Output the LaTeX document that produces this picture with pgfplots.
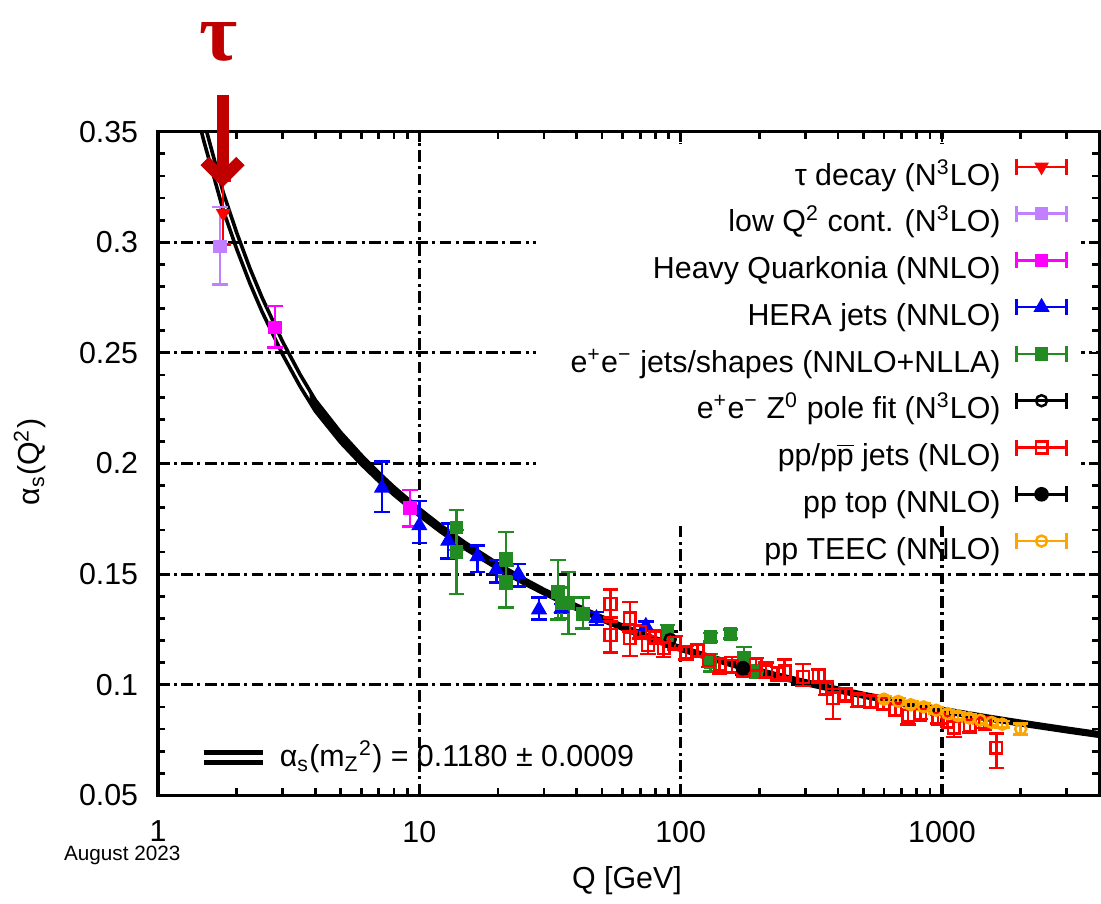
\documentclass[border=0pt]{standalone}
\usepackage{fontspec}
\setmainfont{Liberation Sans}
\newfontfamily\taufont{Liberation Serif}
\usepackage{pgfplots}
\usepackage{pgfplotstable}
\usepgfplotslibrary{fillbetween}
\pgfplotsset{compat=1.18}

\definecolor{taured}{RGB}{192,0,0}
\definecolor{lowq}{RGB}{192,128,255}
\definecolor{hq}{RGB}{255,0,255}
\definecolor{eegreen}{RGB}{34,139,34}
\definecolor{teec}{RGB}{255,165,0}

\pgfplotsset{
  ebleg/.style={legend image code/.code={%
    \draw[##1,mark=none,line width=0.9pt] (0pt,3.8pt) -- (18pt,3.8pt) (0pt,0.9pt) -- (0pt,6.7pt) (18pt,0.9pt) -- (18pt,6.7pt);
    \draw[##1] plot coordinates {(9pt,3.8pt)};
  }},
  pts/.style={only marks, line width=0.9pt, ebleg,
    error bars/y dir=both, error bars/y explicit,
    error bars/error bar style={line width=0.9pt},
    error bars/error mark options={rotate=90, mark size=2.8pt, line width=0.9pt}},
}

% world average band, lower and upper edge
\pgfplotstableread{
Q lo hi
1.35 0.3672 0.3768
1.40 0.3593 0.3687
1.50 0.3455 0.3545
1.60 0.3337 0.3423
1.777 0.3145 0.3225
2.00 0.2970 0.3044
2.25 0.2813 0.2881
2.50 0.2687 0.2751
3.00 0.2492 0.2550
3.50 0.2348 0.2402
4.00 0.2237 0.2287
5.00 0.2095 0.2141
6.00 0.1996 0.2038
7.00 0.1920 0.1958
8.00 0.1858 0.1894
10.0 0.1764 0.1796
12.0 0.1693 0.1723
15.0 0.1614 0.1642
20.0 0.1523 0.1547
25.0 0.1459 0.1481
30.0 0.1411 0.1431
40.0 0.1340 0.1360
50.0 0.1290 0.1308
60.0 0.1251 0.1269
70.0 0.1220 0.1238
91.19 0.1172 0.1188
100 0.1156 0.1172
125 0.1121 0.1137
150 0.1093 0.1109
173 0.1072 0.1088
200 0.1053 0.1069
250 0.1024 0.1040
300 0.1002 0.1018
400 0.0969 0.0985
500 0.0945 0.0961
700 0.0911 0.0927
1000 0.0877 0.0893
1500 0.0842 0.0858
2000 0.0819 0.0835
3000 0.0788 0.0804
4000 0.0767 0.0783
}\curve

\begin{document}
\begin{tikzpicture}
\begin{scope}[x=0.36pt,y=-0.36pt,shift={(-57.24pt,288.18pt)}]
\useasboundingbox (0,0) rectangle (1101,909);
\end{scope}

\begin{axis}[
    scale only axis,
    width=341.06pt, height=240.48pt,
    xmode=log, xmin=1, xmax=4000,
    ymin=0.05, ymax=0.35,
    xtick={1,10,100,1000}, xticklabels={1,10,100,1000},
    minor xtick={2,3,4,5,6,7,8,9,20,30,40,50,60,70,80,90,200,300,400,500,600,700,800,900,2000,3000},
    ytick={0.05,0.1,0.15,0.2,0.25,0.3,0.35},
    yticklabels={0.05,0.1,0.15,0.2,0.25,0.3,0.35},
    minor y tick num=4,
    grid=major,
    major grid style={black, line width=1.1pt, dash pattern=on 4.2pt off 1.6pt on 1.1pt off 1.6pt},
    axis line style={line width=1.2pt},
    tick align=inside,
    major tick length=3.6pt, minor tick length=2.6pt,
    every tick/.style={black, line width=1pt},
    /pgf/number format/assume math mode=true,
    ticklabel style={font=\fontsize{11}{13}\selectfont},
    xticklabel style={inner sep=0pt, yshift=-9pt},
    yticklabel style={inner sep=0pt, xshift=-7pt},
    legend cell align=right,
    legend plot pos=right,
    legend style={at={(0.9669,0.9618)}, anchor=north east, draw=none, fill=none,
      inner sep=0pt, row sep=4.4pt, column sep=5.4pt,
      font=\fontsize{11}{13}\selectfont,
      nodes={inner sep=0pt, text height=8.2pt, text depth=2.6pt}},
]
% blank key area over the grid
\fill[white] (rel axis cs:0.402,0.4124) rectangle (rel axis cs:0.9806,0.982);

\addplot[name path=lo, black, line width=1.3pt, forget plot] table[x=Q, y=lo] {\curve};
\addplot[name path=hi, black, line width=1.3pt, forget plot] table[x=Q, y=hi] {\curve};
\addplot[black, forget plot] fill between[of=lo and hi, soft clip={domain=3.8:4000}];

\addplot[pts, red, mark=triangle*, mark size=2.2pt, mark options={rotate=180}]
  table[x=Q, y=a, y error plus=ep, y error minus=em] {
Q a ep em
1.777 0.313 0.015 0.014
};
\addlegendentry{τ decay (N\textsuperscript{3}LO)}

\addplot[pts, lowq, mark=square*, mark size=2pt]
  table[x=Q, y=a, y error plus=ep, y error minus=em] {
Q a ep em
1.73 0.298 0.018 0.017
};
\addlegendentry{low Q\textsuperscript{2} cont. (N\textsuperscript{3}LO)}

\addplot[pts, hq, mark=square*, mark size=2pt]
  table[x=Q, y=a, y error plus=ep, y error minus=em] {
Q a ep em
2.8 0.2615 0.0098 0.0090
9.2 0.180 0.008 0.0085
};
\addlegendentry{Heavy Quarkonia (NNLO)}

\addplot[pts, blue, mark=triangle*, mark size=2.5pt]
  table[x=Q, y=a, y error plus=ep, y error minus=em] {
Q a ep em
7.2 0.189 0.012 0.011
10.0 0.172 0.011 0.008
12.9 0.165 0.008 0.008
16.7 0.158 0.005 0.007
19.7 0.152 0.0045 0.0058
23.9 0.150 0.0045 0.0055
28.7 0.134 0.0055 0.0045
35.0 0.1345 0.002 0.002
47.6 0.130 0.003 0.003
73.6 0.1265 0.002 0.002
};
\addlegendentry{HERA jets (NNLO)}

\addplot[pts, eegreen, mark=square*, mark size=2pt]
  table[x=Q, y=a, y error plus=ep, y error minus=em] {
Q a ep em
13.9 0.171 0.008 0.010
13.9 0.160 0.010 0.019
21.5 0.157 0.012 0.008
21.5 0.146 0.008 0.011
33.9 0.142 0.0145 0.0125
35.0 0.137 0.007 0.007
37.3 0.137 0.014 0.014
42.2 0.132 0.0075 0.0065
89.0 0.1235 0.0035 0.0035
130 0.1215 0.002 0.002
130 0.110 0.004 0.004
155 0.123 0.002 0.002
175 0.112 0.005 0.005
195 0.106 0.003 0.003
};
\addlegendentry{e\textsuperscript{+}e\textsuperscript{−} jets/shapes (NNLO+NLLA)}

\addplot[pts, black, mark=o, mark size=2pt]
  table[x=Q, y=a, y error plus=ep, y error minus=em] {
Q a ep em
91.19 0.1205 0.0035 0.0035
};
\addlegendentry{e\textsuperscript{+}e\textsuperscript{−} Z\textsuperscript{0} pole fit (N\textsuperscript{3}LO)}

\addplot[pts, red, mark=square, mark size=2.1pt]
  table[x=Q, y=a, y error plus=ep, y error minus=em] {
Q a ep em
53.9 0.1365 0.0065 0.0060
53.9 0.1225 0.0060 0.0080
63.9 0.1300 0.0075 0.0060
63.9 0.1210 0.0060 0.0080
70 0.1240 0.0030 0.0030
75 0.1180 0.0040 0.0040
80 0.1215 0.0030 0.0030
86 0.1165 0.0040 0.0040
95 0.1190 0.0030 0.0030
105 0.1145 0.0030 0.0030
116 0.1155 0.0030 0.0030
128 0.1110 0.0030 0.0030
141 0.1090 0.0030 0.0040
157 0.1085 0.0040 0.0030
174 0.1065 0.0030 0.0030
194 0.1090 0.0030 0.0030
212 0.1060 0.0040 0.0030
235 0.1050 0.0030 0.0030
250 0.1060 0.0055 0.0040
294 0.1035 0.0060 0.0040
337 0.1040 0.0030 0.0030
360 0.0985 0.0030 0.0030
382 0.0940 0.0040 0.0095
428 0.0955 0.0030 0.0030
478 0.0930 0.0030 0.0030
532 0.0925 0.0030 0.0030
596 0.0915 0.0030 0.0030
663 0.0890 0.0030 0.0030
742 0.0860 0.0030 0.0040
826 0.0865 0.0020 0.0020
966 0.0845 0.0020 0.0020
1050 0.0830 0.0020 0.0020
1110 0.0805 0.0030 0.0040
1277 0.0815 0.0030 0.0030
1455 0.0825 0.0020 0.0020
1615 0.0715 0.0065 0.0090
};
\addlegendentry{pp/p$\overline{\mbox{p}}$ jets (NLO)}

\addplot[pts, black, mark=*, mark size=2.2pt]
  table[x=Q, y=a, y error plus=ep, y error minus=em] {
Q a ep em
173 0.1075 0.003 0.003
};
\addlegendentry{pp top (NNLO)}

\addplot[pts, teec, mark=o, mark size=2pt]
  table[x=Q, y=a, y error plus=ep, y error minus=em] {
Q a ep em
600 0.0935 0.0015 0.0015
680 0.0925 0.0015 0.0015
760 0.0910 0.0015 0.0015
850 0.0900 0.0015 0.0015
950 0.0885 0.0015 0.0015
1050 0.0870 0.0015 0.0015
1150 0.0860 0.0015 0.0015
1270 0.0850 0.0015 0.0015
1400 0.0840 0.0015 0.0015
1550 0.0830 0.0015 0.0015
1700 0.0822 0.0015 0.0015
2000 0.0800 0.0025 0.0025
};
\addlegendentry{pp TEEC (NNLO)}
\end{axis}

\begin{scope}[x=0.36pt,y=-0.36pt,shift={(-57.24pt,288.18pt)}]
% key of the world average band
\draw[black, line width=1.6pt] (205,757.5) -- (265,757.5) (205,767.5) -- (265,767.5);
\node[anchor=west, inner sep=0pt, font=\fontsize{11}{13}\selectfont] at (281,762)
  {α\textsubscript{s}(m\textsubscript{Z}\textsuperscript{2}) = 0.1180 ± 0.0009};
\node[rotate=90, font=\fontsize{11}{13}\selectfont] at (30,465) {α\textsubscript{s}(Q\textsuperscript{2})};
\node[font=\fontsize{11}{13}\selectfont] at (631,886) {Q [GeV]};
\node[font=\fontsize{7.5}{8}\selectfont] at (123,861) {August 2023};
% tau marker
\node[text=taured, inner sep=0pt, font=\taufont\bfseries\fontsize{30}{30}\selectfont] at (220,42) {τ};
\draw[taured, line width=4.3pt] (224,96) -- (224,180);
\draw[taured, line width=4.3pt, line join=miter] (206,162) -- (224,180) -- (242,162);
\end{scope}
\end{tikzpicture}
\end{document}
